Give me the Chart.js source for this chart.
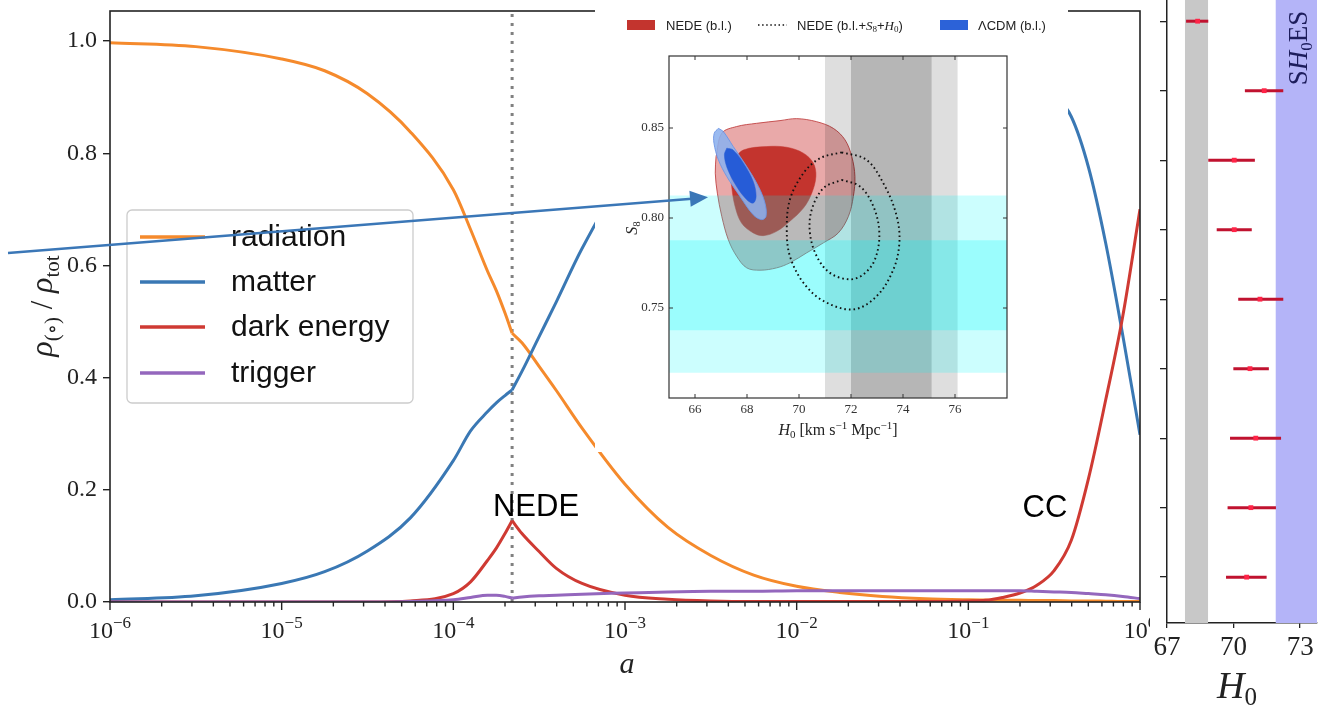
<!DOCTYPE html>
<html>
<head>
<meta charset="utf-8">
<title>NEDE energy budget</title>
<script src="https://cdn.jsdelivr.net/npm/chart.js@4.4.1/dist/chart.umd.min.js"></script>
<style>
  html, body { margin:0; padding:0; background:#ffffff; overflow:hidden; }
  #stage { position:relative; width:1319px; height:707px; }
  #stage canvas { position:absolute; top:0; }
</style>
</head>
<body>
<div id="stage">
  <canvas id="mainChart" width="1150" height="707" style="left:0"></canvas>
  <canvas id="insetChart" width="1068" height="452" style="left:0"></canvas>
  <canvas id="sideChart" width="169" height="707" style="left:1150px"></canvas>
</div>
<script>
const SERIF = "'Liberation Serif','DejaVu Serif',serif";
const SANS = "'Liberation Sans',Arimo,Arial,sans-serif";

// ---------------- main panel data ----------------
const scaleFactor = [1e-6, 3.16e-6, 1e-5, 1.78e-5, 3.16e-5, 5.62e-5, 1e-4, 1.26e-4, 1.58e-4, 1.78e-4, 2.0e-4, 2.2e-4, 2.51e-4, 3.16e-4, 3.98e-4, 5.62e-4, 1e-3, 1.78e-3, 3.16e-3, 5.62e-3, 1e-2, 1.78e-2, 3.16e-2, 5.62e-2, 0.1, 0.126, 0.158, 0.2, 0.251, 0.316, 0.398, 0.501, 0.631, 0.794, 1.0];
const radiation = [0.997,0.990,0.968,0.947,0.906,0.838,0.735,0.664,0.590,0.555,0.515,0.479,0.462,0.420,0.377,0.310,0.210,0.133,0.083,0.048,0.028,0.017,0.010,0.006,0.004,0.0035,0.003,0.003,0.0025,0.0025,0.002,0.002,0.0015,0.001,0.001];
const matter = [0.004,0.011,0.033,0.054,0.091,0.150,0.252,0.305,0.339,0.355,0.368,0.378,0.411,0.473,0.535,0.630,0.760,0.840,0.890,0.925,0.945,0.960,0.968,0.972,0.970,0.965,0.955,0.940,0.925,0.905,0.865,0.775,0.640,0.475,0.298];
const darkEnergy = [0,0,0,0,0,0.002,0.015,0.036,0.074,0.096,0.122,0.145,0.122,0.090,0.060,0.033,0.012,0.005,0.002,0.001,0.001,0.001,0.001,0.001,0.002,0.003,0.008,0.016,0.030,0.056,0.110,0.220,0.360,0.510,0.700];
const trigger = [0,0,0,0,0,0.001,0.004,0.008,0.012,0.012,0.010,0.007,0.009,0.011,0.012,0.014,0.016,0.018,0.019,0.019,0.020,0.020,0.020,0.020,0.020,0.020,0.020,0.020,0.019,0.018,0.017,0.015,0.013,0.010,0.006];
const nedeScale = 2.2e-4;
const seriesNames = ['radiation', 'matter', 'dark energy', 'trigger'];
const seriesColors = ['#f58a2c', '#3a78b4', '#cf3a33', '#9467bd'];
const yTickValues = [0, 0.2, 0.4, 0.6, 0.8, 1.0];
const yTickLabels = ['0.0', '0.2', '0.4', '0.6', '0.8', '1.0'];
const xTickExponents = [-6, -5, -4, -3, -2, -1, 0];
const yMaxMain = 1.0535;

// ---------------- inset data ----------------
const insetXTicks = [66, 68, 70, 72, 74, 76];
const insetYTicks = [0.75, 0.80, 0.85];
const nedeOuterH0 = [66.81,67.03,67.60,68.37,69.27,69.91,70.68,71.32,71.77,72.03,72.15,72.09,71.90,71.51,70.94,70.29,69.65,69.14,68.50,67.99,67.60,67.28,67.03,66.86,66.78];
const nedeOuterS8 = [0.8341,0.8471,0.8508,0.8526,0.8541,0.8552,0.8535,0.8498,0.8434,0.8341,0.8231,0.8120,0.8009,0.7917,0.7862,0.7806,0.7751,0.7723,0.7710,0.7723,0.7788,0.7880,0.8009,0.8138,0.8249];
const nedeInnerH0 = [67.47,67.86,68.76,69.53,70.17,70.55,70.65,70.49,70.17,69.65,69.14,68.63,68.24,67.79,67.54,67.41,67.37];
const nedeInnerS8 = [0.8323,0.8378,0.8397,0.8393,0.8360,0.8305,0.8231,0.8138,0.8055,0.7982,0.7926,0.7902,0.7917,0.7972,0.8065,0.8175,0.8268];
const lcdmOuterH0 = [66.90,67.09,67.47,67.99,68.44,68.69,68.73,68.56,68.24,67.73,67.22,66.90,66.73,66.74];
const lcdmOuterS8 = [0.8498,0.8480,0.8397,0.8286,0.8175,0.8083,0.8009,0.7991,0.8018,0.8120,0.8231,0.8323,0.8415,0.8471];
const lcdmInnerH0 = [67.22,67.47,67.86,68.24,68.35,68.24,67.99,67.60,67.24,67.13];
const lcdmInnerS8 = [0.8388,0.8378,0.8305,0.8203,0.8120,0.8083,0.8102,0.8175,0.8277,0.8351];
const fullOuterH0 = [71.64,72.60,73.31,73.76,73.86,73.63,72.99,72.09,70.94,70.17,69.65,69.53,69.65,70.17,70.81];
const fullOuterS8 = [0.8365,0.8323,0.8175,0.8009,0.7862,0.7714,0.7566,0.7492,0.7539,0.7640,0.7788,0.7935,0.8102,0.8249,0.8332];
const fullInnerH0 = [71.64,72.35,72.86,73.09,72.92,72.47,71.94,71.19,70.68,70.42,70.49,70.94];
const fullInnerS8 = [0.8212,0.8175,0.8065,0.7917,0.7769,0.7686,0.7659,0.7695,0.7788,0.7917,0.8046,0.8166];
const h0BandWide = [71.0, 76.1];
const h0BandNarrow = [72.0, 75.1];
const s8BandWide = [0.714, 0.8125];
const s8BandNarrow = [0.7376, 0.7876];

// ---------------- side panel data ----------------
const h0Rows = [0, 1, 2, 3, 4, 5, 6, 7, 8];
const h0Central = [68.38, 71.38, 70.03, 70.03, 71.19, 70.74, 71.00, 70.78, 70.59];
const h0Low = [67.86, 70.51, 68.86, 69.24, 70.21, 69.99, 69.84, 69.73, 69.66];
const h0High = [68.86, 72.24, 70.96, 70.82, 72.24, 71.59, 72.14, 71.91, 71.49];
const sideXTicks = [67, 70, 73];
const planckBand = [67.81, 68.85];
const shoesBand = [71.9, 74.0];

// ---------------- helpers ----------------
function drawRich(ctx, parts, x, y, align) {
  let w = 0;
  parts.forEach(p => { ctx.font = p.f; p.w = ctx.measureText(p.t).width; w += p.w; });
  let cx = align === 'center' ? x - w / 2 : (align === 'right' ? x - w : x);
  ctx.textAlign = 'left';
  ctx.textBaseline = 'alphabetic';
  parts.forEach(p => { ctx.font = p.f; ctx.fillText(p.t, cx, y + (p.dy || 0)); cx += p.w; });
}
function polygon(xs, ys) {
  const d = xs.map((x, i) => ({x: x, y: ys[i]}));
  d.push({x: xs[0], y: ys[0]});
  return d;
}
function rectPoly(x0, x1, y0, y1) {
  return [{x:x0,y:y0},{x:x1,y:y0},{x:x1,y:y1},{x:x0,y:y1},{x:x0,y:y0}];
}

// ---------------- main chart ----------------
const kinkIndex = scaleFactor.indexOf(nedeScale);
const seriesValues = [radiation, matter, darkEnergy, trigger];
function pts(vals, from, to) {
  const out = [];
  for (let i = from; i <= to; i++) out.push({x: scaleFactor[i], y: vals[i]});
  return out;
}
const mainDatasets = [];
[3, 2, 1, 0].forEach((s, k) => {
  [[0, kinkIndex], [kinkIndex, scaleFactor.length - 1]].forEach(([a, b]) => {
    mainDatasets.push({
      label: seriesNames[s], data: pts(seriesValues[s], a, b),
      borderColor: seriesColors[s], borderWidth: 3, pointRadius: 0,
      cubicInterpolationMode: 'monotone', fill: false, order: k + 1
    });
  });
});
mainDatasets.push({
  label: 'NEDE decay', data: [{x: nedeScale, y: 0}, {x: nedeScale, y: yMaxMain}],
  borderColor: '#808080', borderWidth: 3, borderDash: [3, 6], pointRadius: 0, fill: false, order: 20
});

const mainDecor = {
  id: 'mainDecor',
  afterDraw(chart) {
    const {ctx, chartArea: a, scales: {x}} = chart;
    ctx.save();
    ctx.strokeStyle = '#222'; ctx.lineWidth = 1.6;
    ctx.strokeRect(a.left, a.top, a.right - a.left, a.bottom - a.top);
    ctx.lineWidth = 1.4;
    xTickExponents.forEach((e, i) => {
      const base = Math.pow(10, e);
      const px = x.getPixelForValue(base);
      ctx.beginPath(); ctx.moveTo(px, a.bottom); ctx.lineTo(px, a.bottom + 8); ctx.stroke();
      if (i < xTickExponents.length - 1) {
        for (let m = 2; m <= 9; m++) {
          const q = x.getPixelForValue(m * base);
          ctx.beginPath(); ctx.moveTo(q, a.bottom); ctx.lineTo(q, a.bottom + 4.5); ctx.stroke();
        }
      }
      ctx.fillStyle = '#222';
      ctx.font = `24px ${SERIF}`;
      const w1 = ctx.measureText('10').width;
      const expText = e < 0 ? '\u2212' + Math.abs(e) : String(e);
      ctx.font = `17px ${SERIF}`;
      const w2 = ctx.measureText(expText).width;
      const x0 = px - (w1 + w2) / 2;
      drawRich(ctx, [{t: '10', f: `24px ${SERIF}`}, {t: expText, f: `17px ${SERIF}`, dy: -10}], x0, 638, 'left');
    });
    ctx.fillStyle = '#222';
    drawRich(ctx, [{t: 'a', f: `italic 30px ${SERIF}`}], 627, 673, 'center');
    ctx.save();
    ctx.translate(44, 306); ctx.rotate(-Math.PI / 2);
    drawRich(ctx, [
      {t: 'ρ', f: `italic 32px ${SERIF}`},
      {t: '(∘)', f: `21px ${SERIF}`, dy: 7},
      {t: ' / ', f: `31px ${SERIF}`},
      {t: 'ρ', f: `italic 32px ${SERIF}`},
      {t: 'tot', f: `21px ${SERIF}`, dy: 7}
    ], 0, 8, 'center');
    ctx.restore();
    // legend
    const lx = 127, ly = 210, lw = 286, lh = 193;
    ctx.beginPath();
    ctx.roundRect(lx, ly, lw, lh, 5);
    ctx.fillStyle = 'rgba(255,255,255,0.8)'; ctx.fill();
    ctx.strokeStyle = '#cccccc'; ctx.lineWidth = 1.3; ctx.stroke();
    const rowsY = [237, 282, 327, 373];
    seriesNames.forEach((name, i) => {
      ctx.strokeStyle = seriesColors[i]; ctx.lineWidth = 3.5;
      ctx.beginPath(); ctx.moveTo(140, rowsY[i]); ctx.lineTo(205, rowsY[i]); ctx.stroke();
      ctx.fillStyle = '#111';
      ctx.font = `30px ${SANS}`; ctx.textAlign = 'left'; ctx.textBaseline = 'middle';
      ctx.fillText(name, 231, rowsY[i] + 1);
    });
    ctx.fillStyle = '#000';
    ctx.font = `31px ${SANS}`; ctx.textAlign = 'center'; ctx.textBaseline = 'middle';
    ctx.fillText('NEDE', 536, 507);
    ctx.fillText('CC', 1045, 508);
    ctx.restore();
  }
};

new Chart(document.getElementById('mainChart'), {
  type: 'line',
  data: {datasets: mainDatasets},
  options: {
    responsive: false, animation: false, devicePixelRatio: 1, events: [],
    layout: {padding: {top: 11, right: 10, left: 0, bottom: 0}, autoPadding: false},
    plugins: {legend: {display: false}, tooltip: {enabled: false}},
    scales: {
      x: {
        type: 'logarithmic', min: 1e-6, max: 1,
        grid: {display: false, drawTicks: false}, border: {display: false},
        ticks: {display: false},
        afterFit(s) { s.height = 105; s.paddingLeft = 0; s.paddingRight = 0; }
      },
      y: {
        type: 'linear', min: 0, max: yMaxMain,
        afterBuildTicks(s) { s.ticks = yTickValues.map(v => ({value: v})); },
        ticks: {
          callback: (v, i) => yTickLabels[i],
          font: {family: SERIF, size: 24}, color: '#222', padding: 6
        },
        grid: {drawOnChartArea: false, tickLength: 7, color: '#222', lineWidth: 1.4},
        border: {display: false},
        afterFit(s) { s.width = 110; s.paddingTop = 0; s.paddingBottom = 0; }
      }
    }
  },
  plugins: [mainDecor]
});

// ---------------- inset chart ----------------
const insetLayers = [
  {d: polygon(nedeOuterH0, nedeOuterS8), bg: 'rgba(200,40,40,0.40)', bc: 'rgba(190,60,60,0.85)', bw: 1, t: 0.35},
  {d: polygon(nedeInnerH0, nedeInnerS8), bg: 'rgb(195,52,46)', bc: 'rgb(195,52,46)', bw: 0.5, t: 0.35},
  {d: rectPoly(h0BandWide[0], h0BandWide[1], 0.70, 0.89), bg: 'rgba(0,0,0,0.13)', bw: 0, t: 0},
  {d: rectPoly(h0BandNarrow[0], h0BandNarrow[1], 0.70, 0.89), bg: 'rgba(0,0,0,0.18)', bw: 0, t: 0},
  {d: rectPoly(65, 78, s8BandWide[0], s8BandWide[1]), bg: 'rgba(0,250,250,0.20)', bw: 0, t: 0},
  {d: rectPoly(65, 78, s8BandNarrow[0], s8BandNarrow[1]), bg: 'rgba(0,250,250,0.24)', bw: 0, t: 0},
  {d: polygon(lcdmOuterH0, lcdmOuterS8), bg: 'rgba(140,176,238,0.88)', bc: 'rgba(110,150,230,0.9)', bw: 1, t: 0.35},
  {d: polygon(lcdmInnerH0, lcdmInnerS8), bg: 'rgb(38,92,215)', bc: 'rgb(38,92,215)', bw: 0.5, t: 0.35}
];
const insetDatasets = insetLayers.map((L, i) => ({
  data: L.d, backgroundColor: L.bg, borderColor: L.bc || 'rgba(0,0,0,0)', borderWidth: L.bw,
  fill: 'shape', tension: L.t, pointRadius: 0, order: 100 - i
}));
[[fullOuterH0, fullOuterS8], [fullInnerH0, fullInnerS8]].forEach((c, k) => {
  insetDatasets.push({
    data: polygon(c[0], c[1]), borderColor: '#111', borderWidth: 1.9, borderDash: [1.6, 3.0],
    fill: false, tension: 0.35, pointRadius: 0, order: 10 - k
  });
});

const insetDecor = {
  id: 'insetDecor',
  beforeDraw(chart) {
    const ctx = chart.ctx;
    ctx.save(); ctx.fillStyle = '#ffffff'; ctx.fillRect(595, 0, 473, 452); ctx.restore();
  },
  afterDraw(chart) {
    const {ctx, chartArea: a, scales: {x, y}} = chart;
    ctx.save();
    ctx.strokeStyle = '#333'; ctx.lineWidth = 1.2;
    ctx.strokeRect(a.left, a.top, a.right - a.left, a.bottom - a.top);
    ctx.lineWidth = 1;
    insetXTicks.forEach(v => {
      const p = x.getPixelForValue(v);
      ctx.beginPath(); ctx.moveTo(p, a.bottom); ctx.lineTo(p, a.bottom - 4); ctx.stroke();
      ctx.beginPath(); ctx.moveTo(p, a.top); ctx.lineTo(p, a.top + 4); ctx.stroke();
    });
    insetYTicks.forEach(v => {
      const p = y.getPixelForValue(v);
      ctx.beginPath(); ctx.moveTo(a.left, p); ctx.lineTo(a.left + 4, p); ctx.stroke();
      ctx.beginPath(); ctx.moveTo(a.right, p); ctx.lineTo(a.right - 4, p); ctx.stroke();
    });
    ctx.fillStyle = '#222';
    drawRich(ctx, [
      {t: 'H', f: `italic 16px ${SERIF}`}, {t: '0', f: `11px ${SERIF}`, dy: 3},
      {t: ' [km s', f: `16px ${SERIF}`}, {t: '\u22121', f: `11px ${SERIF}`, dy: -6},
      {t: ' Mpc', f: `16px ${SERIF}`}, {t: '\u22121', f: `11px ${SERIF}`, dy: -6},
      {t: ']', f: `16px ${SERIF}`}
    ], 838, 435, 'center');
    ctx.save();
    ctx.translate(632, 228); ctx.rotate(-Math.PI / 2);
    drawRich(ctx, [{t: 'S', f: `italic 16px ${SERIF}`}, {t: '8', f: `11px ${SERIF}`, dy: 3}], 0, 5, 'center');
    ctx.restore();
    // legend
    ctx.fillStyle = 'rgb(195,52,46)'; ctx.fillRect(627, 20, 28, 10);
    ctx.fillStyle = 'rgb(44,98,216)'; ctx.fillRect(940, 20, 28, 10);
    ctx.strokeStyle = '#111'; ctx.lineWidth = 1.5; ctx.setLineDash([1.5, 2.6]);
    ctx.beginPath(); ctx.moveTo(758, 25); ctx.lineTo(787, 25); ctx.stroke();
    ctx.setLineDash([]);
    ctx.fillStyle = '#222';
    drawRich(ctx, [{t: 'NEDE (b.l.)', f: `13px ${SANS}`}], 666, 30, 'left');
    drawRich(ctx, [
      {t: 'NEDE (b.l.+', f: `13px ${SANS}`}, {t: 'S', f: `italic 13px ${SERIF}`}, {t: '8', f: `9px ${SERIF}`, dy: 2},
      {t: '+', f: `13px ${SANS}`}, {t: 'H', f: `italic 13px ${SERIF}`}, {t: '0', f: `9px ${SERIF}`, dy: 2},
      {t: ')', f: `13px ${SANS}`}
    ], 797, 30, 'left');
    drawRich(ctx, [{t: 'ΛCDM (b.l.)', f: `13px ${SANS}`}], 978, 30, 'left');
    // arrow
    ctx.strokeStyle = '#3b77b7'; ctx.fillStyle = '#3b77b7'; ctx.lineWidth = 2.5;
    ctx.beginPath(); ctx.moveTo(8, 253); ctx.lineTo(692, 198.7); ctx.stroke();
    ctx.beginPath(); ctx.moveTo(708, 197.3); ctx.lineTo(690.7, 206.7); ctx.lineTo(689.4, 190.8); ctx.closePath(); ctx.fill();
    ctx.restore();
  }
};

new Chart(document.getElementById('insetChart'), {
  type: 'line',
  data: {datasets: insetDatasets},
  options: {
    responsive: false, animation: false, devicePixelRatio: 1, events: [],
    layout: {padding: {top: 56, right: 61, left: 595, bottom: 0}, autoPadding: false},
    plugins: {legend: {display: false}, tooltip: {enabled: false}},
    scales: {
      x: {
        type: 'linear', min: 65, max: 78,
        afterBuildTicks(s) { s.ticks = insetXTicks.map(v => ({value: v})); },
        ticks: {font: {family: SERIF, size: 13}, color: '#333', padding: 4, maxRotation: 0},
        grid: {display: false, drawTicks: false}, border: {display: false},
        afterFit(s) { s.height = 54; s.paddingLeft = 0; s.paddingRight = 0; }
      },
      y: {
        type: 'linear', min: 0.70, max: 0.89,
        afterBuildTicks(s) { s.ticks = insetYTicks.map(v => ({value: v})); },
        ticks: {callback: v => v.toFixed(2), font: {family: SERIF, size: 13}, color: '#333', padding: 5},
        grid: {display: false, drawTicks: false}, border: {display: false},
        afterFit(s) { s.width = 74; s.paddingTop = 0; s.paddingBottom = 0; }
      }
    }
  },
  plugins: [insetDecor]
});

// ---------------- side panel ----------------
const sideDatasets = [];
h0Rows.forEach((r, i) => {
  sideDatasets.push({
    data: [{x: h0Low[i], y: r}, {x: h0High[i], y: r}],
    borderColor: '#c0122f', borderWidth: 3, pointRadius: 0, fill: false, order: 5
  });
});
sideDatasets.push({
  data: h0Rows.map((r, i) => ({x: h0Central[i], y: r})),
  showLine: false, pointStyle: 'rect', pointRadius: 3.4, backgroundColor: '#ff2447', borderWidth: 0, order: 1
});
sideDatasets.push({data: rectPoly(planckBand[0], planckBand[1], -0.305, 8.66), backgroundColor: '#c8c8c8', borderWidth: 0, fill: 'shape', pointRadius: 0, order: 50});
sideDatasets.push({data: rectPoly(shoesBand[0], shoesBand[1], -0.305, 8.66), backgroundColor: '#b4b4f8', borderWidth: 0, fill: 'shape', pointRadius: 0, order: 51});

const sideDecor = {
  id: 'sideDecor',
  beforeDraw(chart) {
    const ctx = chart.ctx;
    ctx.save(); ctx.fillStyle = '#ffffff'; ctx.fillRect(0, 0, chart.width, chart.height); ctx.restore();
  },
  afterDraw(chart) {
    const ctx = chart.ctx;
    ctx.save();
    ctx.fillStyle = '#1d1d5c';
    ctx.translate(148, 48); ctx.rotate(-Math.PI / 2);
    drawRich(ctx, [
      {t: 'S', f: `27px ${SERIF}`}, {t: 'H', f: `italic 27px ${SERIF}`}, {t: '0', f: `17px ${SERIF}`, dy: 5},
      {t: 'ES', f: `27px ${SERIF}`}
    ], 0, 9, 'center');
    ctx.restore();
    ctx.save();
    ctx.fillStyle = '#222';
    drawRich(ctx, [{t: 'H', f: `italic 38px ${SERIF}`}, {t: '0', f: `25px ${SERIF}`, dy: 7}], 87, 698, 'center');
    ctx.restore();
  }
};

new Chart(document.getElementById('sideChart'), {
  type: 'line',
  data: {datasets: sideDatasets},
  options: {
    responsive: false, animation: false, devicePixelRatio: 1, events: [],
    layout: {padding: {top: 0, right: 2, left: 0, bottom: 0}, autoPadding: false},
    plugins: {legend: {display: false}, tooltip: {enabled: false}},
    scales: {
      x: {
        type: 'linear', min: 67, max: 73.76,
        afterBuildTicks(s) { s.ticks = sideXTicks.map(v => ({value: v})); },
        ticks: {font: {family: SERIF, size: 27}, color: '#222', padding: 4, maxRotation: 0},
        grid: {drawOnChartArea: false, tickLength: 5, color: '#222', lineWidth: 1.3},
        border: {display: true, color: '#222', width: 1.5},
        afterFit(s) { s.height = 84; s.paddingLeft = 0; s.paddingRight = 0; }
      },
      y: {
        type: 'linear', min: -0.305, max: 8.66, reverse: true,
        afterBuildTicks(s) { s.ticks = h0Rows.map(v => ({value: v})); },
        ticks: {callback: () => ''},
        grid: {drawOnChartArea: false, tickLength: 7, color: '#222', lineWidth: 1.3},
        border: {display: true, color: '#222', width: 1.5},
        afterFit(s) { s.width = 17; s.paddingTop = 0; s.paddingBottom = 0; }
      }
    }
  },
  plugins: [sideDecor]
});
</script>
</body>
</html>
